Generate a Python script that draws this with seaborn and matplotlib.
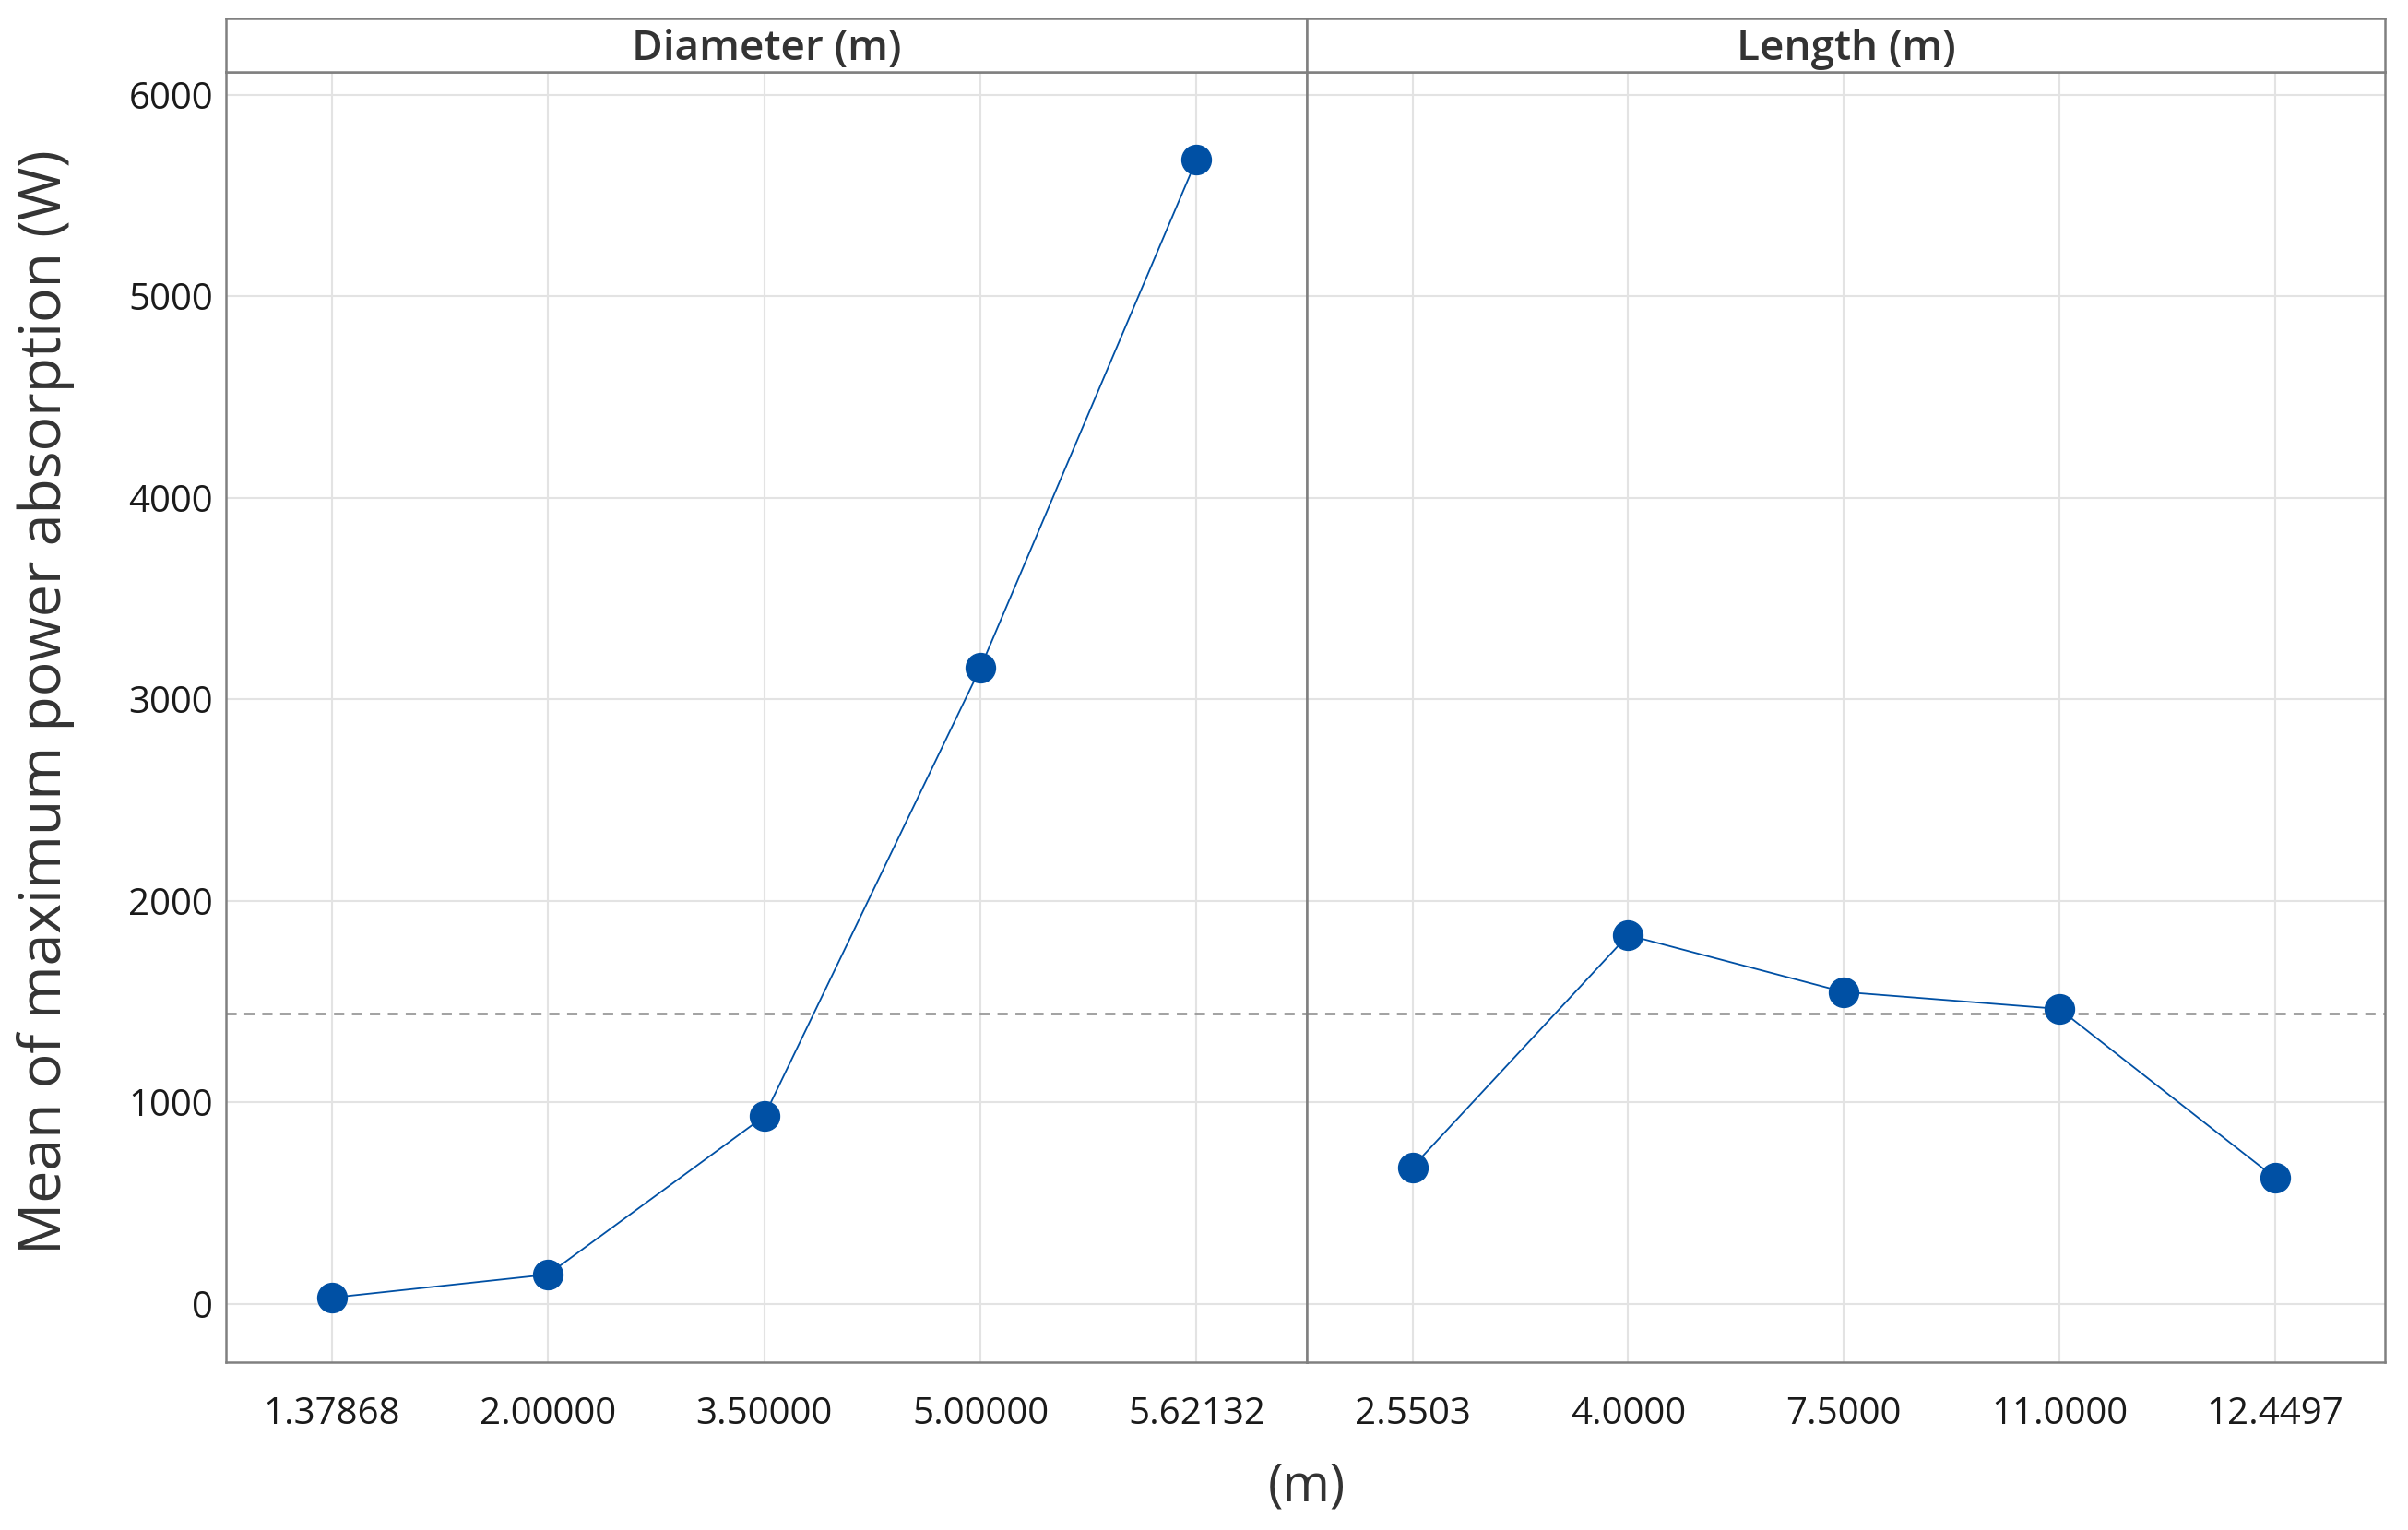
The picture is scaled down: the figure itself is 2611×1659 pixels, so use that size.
import numpy as np
import pandas as pd
import matplotlib
matplotlib.use("Agg")
import matplotlib.pyplot as plt
import seaborn as sns

# main effects data
diam_levels = ["1.37868", "2.00000", "3.50000", "5.00000", "5.62132"]
diam_means = [30, 145, 930, 3155, 5678]
len_levels = ["2.5503", "4.0000", "7.5000", "11.0000", "12.4497"]
len_means = [678, 1829, 1547, 1463, 625]
grand_mean = 1440
panel_titles = ["Diameter (m)", "Length (m)"]
y_ticks = [0, 1000, 2000, 3000, 4000, 5000, 6000]

sns.set_style("white")
plt.rcParams['font.family'] = ['Open Sans', 'DejaVu Sans']

blue = "#0050a4"
edge = "#808080"
txt = "#1a1a1a"

df = pd.concat([
    pd.DataFrame({"factor": panel_titles[0], "level": diam_levels, "mean": diam_means}),
    pd.DataFrame({"factor": panel_titles[1], "level": len_levels, "mean": len_means}),
])

fig = plt.figure(figsize=(26.11, 16.59), dpi=100)
x0, xm, x1 = 0.0938, 0.5427, 0.9904
y0, y1, ys = 0.1097, 0.953, 0.988

axes = [fig.add_axes([x0, y0, xm - x0, y1 - y0]),
        fig.add_axes([xm, y0, x1 - xm, y1 - y0])]

for i, (ax, title) in enumerate(zip(axes, panel_titles)):
    sub = df[df["factor"] == title]
    ax.axhline(grand_mean, color="#999999", linestyle=(0, (4, 3)), linewidth=2, zorder=1)
    sns.pointplot(data=sub, x="level", y="mean", order=list(sub["level"]),
                  color=blue, markers="o", markersize=23, linewidth=1.3,
                  errorbar=None, ax=ax)
    ax.grid(True, axis="both", color="#e3e3e3", linewidth=1.5, zorder=0)
    ax.set_axisbelow(True)
    ax.set_xlim(-0.49, 4.51)
    ax.set_ylim(-290, 6113)
    ax.set_yticks(y_ticks)
    ax.set_xlabel("")
    ax.set_ylabel("")
    ax.tick_params(axis="x", length=14, width=1.5, color=edge, labelsize=29,
                   labelcolor=txt, pad=12)
    ax.tick_params(axis="y", length=6, width=1.5, color=edge, labelsize=29,
                   labelcolor=txt, pad=4)
    for lab in ax.get_xticklabels() + ax.get_yticklabels():
        lab.set_fontweight("medium")
    for s in ax.spines.values():
        s.set_color(edge)
        s.set_linewidth(1.8)
    if i == 1:
        ax.tick_params(axis="y", left=False, labelleft=False)

    # boxed panel header
    pos = ax.get_position()
    hax = fig.add_axes([pos.x0, y1, pos.width, ys - y1])
    hax.set_xticks([])
    hax.set_yticks([])
    for s in hax.spines.values():
        s.set_color(edge)
        s.set_linewidth(1.8)
    hax.text(0.5, 0.42, title, ha="center", va="center", fontsize=33,
             color="#333333", fontweight="semibold")

fig.text(0.019, (y0 + y1) / 2 + 0.01, "Mean of maximum power absorption (W)",
         rotation=90, ha="center", va="center", fontsize=45, color="#333333")
fig.text(xm, 0.028, "(m)", ha="center", va="center", fontsize=40, color="#333333")

fig.savefig("out.png", dpi=100)
